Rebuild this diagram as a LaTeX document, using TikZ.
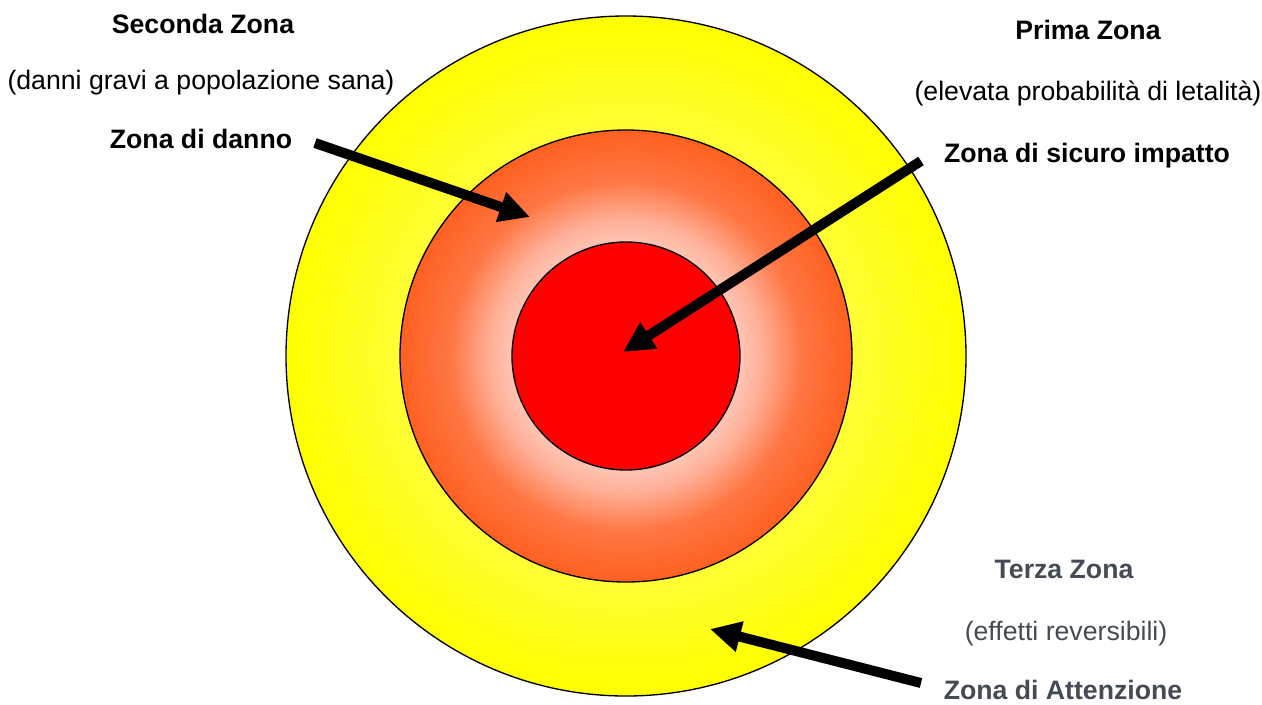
\documentclass[tikz,border=0pt]{standalone}
\usepackage{fontspec}
\setmainfont{Liberation Sans}
\usetikzlibrary{arrows.meta}
\definecolor{orangeedge}{HTML}{FF6020}
\definecolor{orangemid}{HTML}{FF7744}
\definecolor{pinkmid}{HTML}{FFB098}
\definecolor{yellowlight}{HTML}{FFFFA0}
\definecolor{greytext}{HTML}{454B55}
\pgfdeclareradialshading{midshade}{\pgfpoint{0bp}{0bp}}{color(0bp)=(white); color(6bp)=(white); color(15bp)=(pinkmid); color(19.4bp)=(orangemid); color(25bp)=(orangeedge); color(50bp)=(orangeedge)}
\pgfdeclareradialshading{outshade}{\pgfpoint{0bp}{0bp}}{color(0bp)=(yellowlight); color(25bp)=(yellow); color(50bp)=(yellow)}
\tikzset{
  ring/.style={draw=black, line width=1pt},
  lbl/.style={font=\fontsize{20pt}{24pt}\selectfont\bfseries, anchor=base, inner sep=0pt},
  sub/.style={font=\fontsize{20pt}{24pt}\selectfont, anchor=base, inner sep=0pt},
  grey/.style={text=greytext},
  bigarrow/.style={line width=7.5pt, -{Triangle[length=23pt,width=22pt]}}
}
\begin{document}
\begin{tikzpicture}[x=0.75pt,y=-0.75pt]
\useasboundingbox (0,0) rectangle (1262,704);
\coordinate (c) at (626,356);
\shade[ring, shading=outshade] (c) circle (340);
\shade[ring, shading=midshade] (c) circle (226);
\fill[red] (c) circle (114);
\draw[ring] (c) circle (114);

\node[lbl] (t2) at (203,33) {Seconda Zona};
\node[sub] (s2) at (201,89) {(danni gravi a popolazione sana)};
\node[lbl] (z2) at (201,148) {Zona di danno};

\node[lbl] (t1) at (1088,39) {Prima Zona};
\node[sub] (s1) at (1088,100) {(elevata probabilità di letalità)};
\node[lbl] (z1) at (1087,162) {Zona di sicuro impatto};

\node[lbl, grey] (t3) at (1064,578) {Terza Zona};
\node[sub, grey] (s3) at (1066,640) {(effetti reversibili)};
\node[lbl, grey] (z3) at (1063,699) {Zona di Attenzione};

\coordinate (a2s) at (315,143);
\coordinate (a2e) at (530,217);
\coordinate (a1s) at (921,161);
\coordinate (a1e) at (623,352);
\coordinate (a3s) at (921,683);
\coordinate (a3e) at (710,629);

\draw[bigarrow] (a2s) -- (a2e);
\draw[bigarrow] (a1s) -- (a1e);
\draw[bigarrow] (a3s) -- (a3e);
\end{tikzpicture}
\end{document}
